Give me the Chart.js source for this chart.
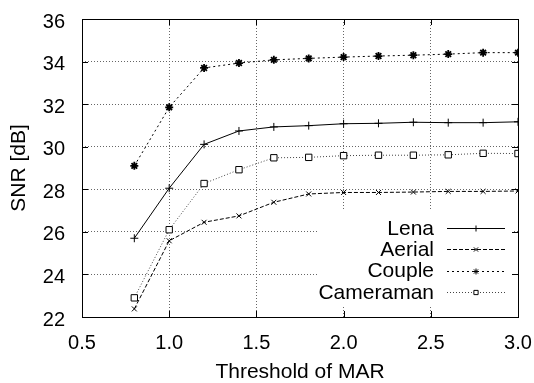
<!DOCTYPE html>
<html>
<head>
<meta charset="utf-8">
<script src="https://cdn.jsdelivr.net/npm/chart.js@4.4.1/dist/chart.umd.min.js"></script>
<style>
    html, body { margin: 0; padding: 0; background: #fff; }
    #wrap { width: 534px; height: 383px; }
</style>
</head>
<body>
<div id="wrap"><canvas id="snrChart" width="534" height="383"></canvas></div>
<script>
// values
const thresholds = [0.8, 1.0, 1.2, 1.4, 1.6, 1.8, 2.0, 2.2, 2.4, 2.6, 2.8, 3.0];
const lena      = [25.70, 28.05, 30.11, 30.74, 30.93, 30.99, 31.08, 31.10, 31.15, 31.13, 31.13, 31.17];
const aerial    = [22.38, 25.58, 26.45, 26.75, 27.39, 27.78, 27.85, 27.85, 27.87, 27.90, 27.90, 27.92];
const couple    = [29.10, 31.85, 33.70, 33.93, 34.08, 34.15, 34.21, 34.26, 34.30, 34.35, 34.42, 34.42];
const cameraman = [22.90, 26.10, 28.27, 28.92, 29.48, 29.50, 29.58, 29.60, 29.60, 29.62, 29.69, 29.68];
const seriesNames = ['Lena', 'Aerial', 'Couple', 'Cameraman'];
const xTicks = [0.5, 1.0, 1.5, 2.0, 2.5, 3.0];

const FONT = '"Liberation Sans", Arial, Helvetica, sans-serif';

function pts(ys) {
    return thresholds.map((x, i) => ({ x: x, y: ys[i] }));
}

function makeSet(label, ys, dash, color, style, radius, markWidth) {
    return {
        label: label,
        data: pts(ys),
        borderColor: color,
        borderWidth: 1,
        borderDash: dash,
        pointStyle: style,
        pointRadius: radius,
        pointBorderColor: '#000',
        pointBackgroundColor: '#fff',
        pointBorderWidth: markWidth,
        tension: 0,
        fill: false
    };
}

// frame, inward tick marks and the in-plot key, gnuplot style
const framePlugin = {
    id: 'frame',
    beforeDatasetsDraw(chart) {
        const a = chart.chartArea, ctx = chart.ctx;
        ctx.save();
        ctx.fillStyle = '#fff';
        ctx.fillRect(a.right - 201, a.bottom - 107, 195, 95);
        ctx.restore();
    },
    afterDatasetsDraw(chart) {
        const a = chart.chartArea, ctx = chart.ctx;
        const xs = chart.scales.x, ys = chart.scales.y;
        ctx.save();
        ctx.strokeStyle = '#000';
        ctx.lineWidth = 1;
        ctx.setLineDash([]);
        ctx.beginPath();
        ys.ticks.forEach(t => {
            const py = Math.round(ys.getPixelForValue(t.value)) + 0.5;
            ctx.moveTo(a.left, py); ctx.lineTo(a.left + 6, py);
            ctx.moveTo(a.right, py); ctx.lineTo(a.right - 6, py);
        });
        xs.ticks.forEach(t => {
            const px = Math.round(xs.getPixelForValue(t.value)) + 0.5;
            ctx.moveTo(px, a.bottom); ctx.lineTo(px, a.bottom - 6);
            ctx.moveTo(px, a.top); ctx.lineTo(px, a.top + 6);
        });
        ctx.stroke();
        ctx.strokeRect(Math.round(a.left) + 0.5, Math.round(a.top) + 0.5,
            Math.round(a.right - a.left), Math.round(a.bottom - a.top));

        // key
        ctx.font = '21px ' + FONT;
        ctx.textAlign = 'right';
        ctx.textBaseline = 'middle';
        chart.data.datasets.forEach((ds, i) => {
            const y = a.bottom - 89 + i * 21.3;
            ctx.fillStyle = '#000';
            ctx.fillText(ds.label, a.right - 84, y + 1);
            ctx.strokeStyle = ds.borderColor;
            ctx.setLineDash(ds.borderDash);
            ctx.beginPath();
            ctx.moveTo(a.right - 71, Math.round(y) + 0.5);
            ctx.lineTo(a.right - 13, Math.round(y) + 0.5);
            ctx.stroke();
            ctx.setLineDash([]);
            ctx.strokeStyle = '#000';
            ctx.fillStyle = '#fff';
            if (Chart.helpers && Chart.helpers.drawPoint) {
                Chart.helpers.drawPoint(ctx, {
                    pointStyle: ds.pointStyle, radius: 3, rotation: 0, borderWidth: 1
                }, a.right - 42, Math.round(y) + 0.5);
            }
        });
        ctx.restore();
    }
};

const ctx = document.getElementById('snrChart').getContext('2d');

const snrChart = new Chart(ctx, {
    type: 'line',
    plugins: [framePlugin],
    data: {
        datasets: [
            makeSet(seriesNames[0], lena, [], '#000', 'cross', 4, 1),
            makeSet(seriesNames[1], aerial, [4, 2], '#000', 'crossRot', 3.5, 1),
            makeSet(seriesNames[2], couple, [2, 3], '#000', 'star', 4, 1.8),
            makeSet(seriesNames[3], cameraman, [1, 2], '#444', 'rect', 4.5, 1)
        ]
    },
    options: {
        responsive: false,
        animation: false,
        devicePixelRatio: 1,
        layout: { padding: { left: 0, right: 16, top: 19, bottom: 0 } },
        plugins: {
            legend: { display: false },
            tooltip: { enabled: false }
        },
        scales: {
            x: {
                type: 'linear',
                min: 0.5,
                max: 3.0,
                afterFit: s => {
                    s.height = 66;
                    s.paddingLeft = 0;
                    s.paddingRight = 0;
                },
                afterBuildTicks: s => { s.ticks = xTicks.map(v => ({ value: v })); },
                border: { display: false, dash: [1, 2] },
                grid: {
                    drawTicks: false,
                    color: '#666',
                    lineWidth: 1
                },
                ticks: {
                    padding: 14,
                    color: '#000',
                    font: { family: FONT, size: 20 },
                    callback: v => Number(v).toFixed(1)
                },
                title: {
                    display: true,
                    text: 'Threshold of MAR',
                    color: '#000',
                    font: { family: FONT, size: 21, lineHeight: 1 },
                    padding: { top: 0, bottom: 0 }
                }
            },
            y: {
                min: 22,
                max: 36,
                afterFit: s => {
                    s.width = 82;
                    s.paddingTop = 0;
                    s.paddingBottom = 0;
                },
                border: { display: false, dash: [1, 2] },
                grid: {
                    drawTicks: false,
                    color: '#666',
                    lineWidth: 1
                },
                ticks: {
                    stepSize: 2,
                    padding: 17,
                    labelOffset: 3,
                    color: '#000',
                    font: { family: FONT, size: 20 }
                },
                title: {
                    display: true,
                    text: 'SNR [dB]',
                    color: '#000',
                    font: { family: FONT, size: 21, lineHeight: 1 },
                    padding: { top: 9, bottom: 0 }
                }
            }
        }
    }
});
</script>
</body>
</html>
